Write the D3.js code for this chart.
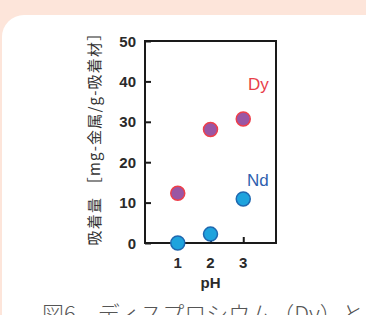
<!DOCTYPE html>
<html>
<head>
<meta charset="utf-8">
<script src="https://cdn.jsdelivr.net/npm/d3@7"></script>
<style>
  body { margin: 0; background: #fde5da; }
  svg { display: block; }
</style>
</head>
<body>
<div id="visual"></div>
<script>
// pH values on the x axis
phValues = [1, 2, 3]
// adsorption amount [mg-metal / g-adsorbent]
dyValues = [12.3, 28.1, 30.7]
ndValues = [0, 2.2, 10.9]
yTicks = [0, 10, 20, 30, 40, 50]
xTicks = [1, 2, 3]

const width = 366, height = 315;
const plotLeft = 145, plotRight = 276, plotTop = 41, plotBottom = 243;

const svg = d3.select('#visual').append('svg')
    .attr("width", width)
    .attr("height", height)
    .attr("font-family", "'Liberation Sans', Arial, sans-serif");

// white rounded panel
svg.append("rect")
    .attr("x", 2).attr("y", 15)
    .attr("width", 390).attr("height", 340)
    .attr("rx", 22)
    .attr("fill", "#ffffff");

const x = d3.scaleLinear().domain([0, 4]).range([plotLeft, plotRight]);
const y = d3.scaleLinear().domain([0, 50]).range([plotBottom, plotTop]);

// frame
svg.append("rect")
    .attr("x", plotLeft).attr("y", plotTop)
    .attr("width", plotRight - plotLeft).attr("height", plotBottom - plotTop)
    .attr("fill", "none")
    .attr("stroke", "#1a1a1a")
    .attr("stroke-width", 2);

const yAxis = svg.append("g")
    .attr("transform", `translate(${plotLeft},0)`)
    .call(d3.axisRight(y).tickValues(yTicks).tickSize(6).tickFormat(""));
yAxis.select(".domain").remove();
yAxis.selectAll("line").attr("stroke", "#1a1a1a").attr("stroke-width", 2);

const xAxis = svg.append("g")
    .attr("transform", `translate(0,${plotBottom})`)
    .call(d3.axisTop(x).tickValues(xTicks).tickSize(6).tickFormat(""));
xAxis.select(".domain").remove();
xAxis.selectAll("line").attr("stroke", "#1a1a1a").attr("stroke-width", 2);

// tick labels
svg.selectAll(".ylab")
  .data(yTicks)
  .enter().append("text")
    .attr("x", plotLeft - 9)
    .attr("y", d => y(d) + 5.5)
    .attr("text-anchor", "end")
    .attr("font-size", 15)
    .attr("font-weight", "bold")
    .attr("fill", "#2a2a2a")
    .text(d => d);

svg.selectAll(".xlab")
  .data(xTicks)
  .enter().append("text")
    .attr("x", d => x(d))
    .attr("y", 268)
    .attr("text-anchor", "middle")
    .attr("font-size", 15)
    .attr("font-weight", "bold")
    .attr("fill", "#2a2a2a")
    .text(d => d);

svg.append("text")
    .attr("x", x(2))
    .attr("y", 288)
    .attr("text-anchor", "middle")
    .attr("font-size", 15)
    .attr("font-weight", "bold")
    .attr("fill", "#2a2a2a")
    .text("pH");

// y axis title
svg.append("text")
    .attr("transform", "translate(100,135) rotate(-90)")
    .attr("text-anchor", "middle")
    .attr("font-family", "'Noto Sans CJK JP', sans-serif")
    .attr("font-size", 15)
    .attr("letter-spacing", 1.2)
    .attr("fill", "#333333")
    .text("吸着量 ［mg-金属/g-吸着材］");

// points
svg.selectAll(".dy")
  .data(phValues)
  .enter().append("circle")
    .attr("cx", d => x(d))
    .attr("cy", (d, i) => y(dyValues[i]))
    .attr("r", 7)
    .attr("fill", "#9a56a4")
    .attr("stroke", "#ee3f4a")
    .attr("stroke-width", 1.5);

svg.selectAll(".nd")
  .data(phValues)
  .enter().append("circle")
    .attr("cx", d => x(d))
    .attr("cy", (d, i) => y(ndValues[i]))
    .attr("r", 7)
    .attr("fill", "#1ea3dd")
    .attr("stroke", "#1f68b0")
    .attr("stroke-width", 1.5);

svg.append("text")
    .attr("x", 248).attr("y", 90)
    .attr("font-size", 17)
    .attr("fill", "#e8404a")
    .text("Dy");

svg.append("text")
    .attr("x", 247).attr("y", 186)
    .attr("font-size", 17)
    .attr("fill", "#2f5fae")
    .text("Nd");

// caption (cut off at bottom, as in the source)
svg.append("text")
    .attr("x", 42).attr("y", 322)
    .attr("font-family", "'Noto Sans CJK JP', sans-serif")
    .attr("font-size", 22)
    .attr("font-weight", 300)
    .attr("fill", "#555555")
    .text("図6　ディスプロシウム（Dy）とネオジム（Nd）");
</script>
</body>
</html>
